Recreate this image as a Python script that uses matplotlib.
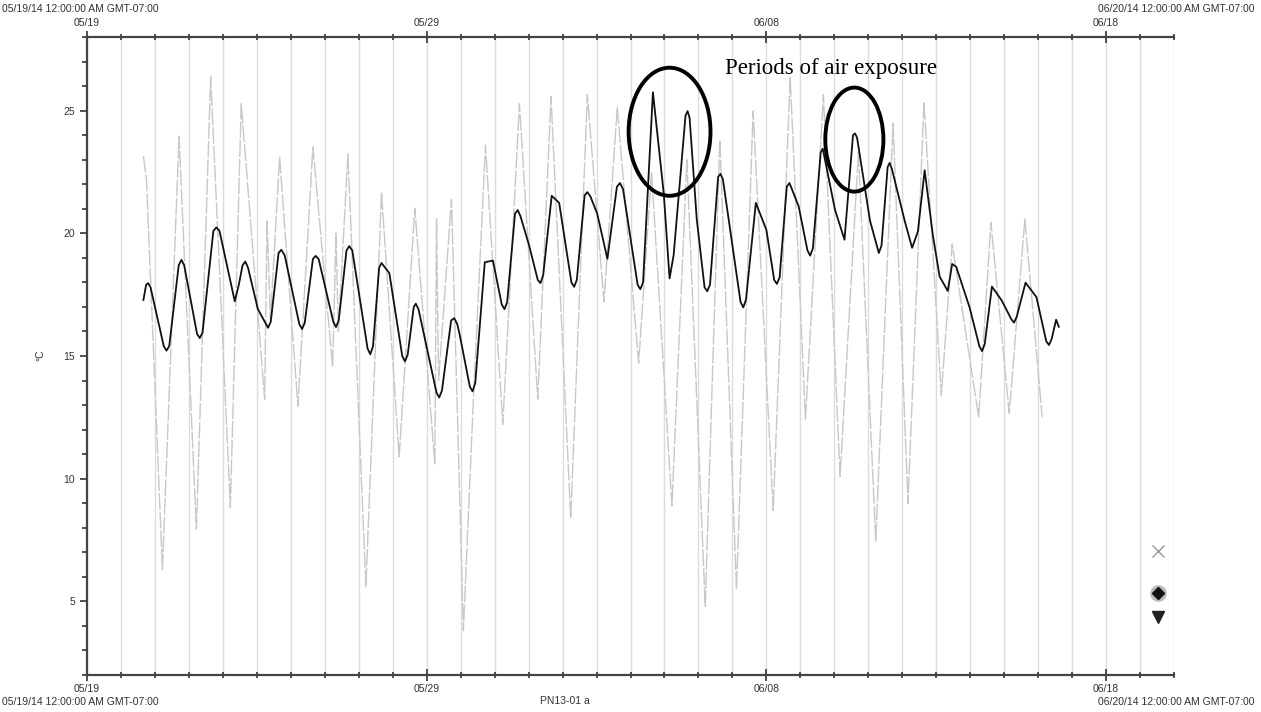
import matplotlib.pyplot as plt
from matplotlib.patches import Ellipse
from matplotlib.ticker import MultipleLocator

# days since 05/19/14 00:00 (GMT-07:00)
black_day = [1.66, 1.74, 1.80, 1.87, 2.26, 2.34, 2.42, 2.70, 2.78, 2.86, 3.24, 3.32, 3.40,
             3.72, 3.81, 3.90, 4.35, 4.47, 4.58, 4.66, 4.74, 5.03, 5.33, 5.41, 5.64, 5.72,
             5.82, 6.25, 6.33, 6.41, 6.65, 6.73, 6.82, 7.25, 7.33, 7.41, 7.64, 7.72, 7.81,
             8.26, 8.34, 8.42, 8.60, 8.67, 8.90, 9.28, 9.36, 9.44, 9.62, 9.68, 9.76,
             10.29, 10.37, 10.45, 10.72, 10.81, 10.90, 10.97, 11.27, 11.35, 11.43, 11.71,
             11.95, 12.21, 12.29, 12.37, 12.60, 12.68, 12.76, 13.02, 13.27, 13.35, 13.43,
             13.68, 13.90, 14.26, 14.34, 14.42, 14.65, 14.73, 14.82, 15.02, 15.32, 15.60,
             15.69, 15.78, 16.21, 16.29, 16.37, 16.66, 16.98, 17.15, 17.27, 17.62, 17.68,
             17.74, 17.95, 18.18, 18.26, 18.34, 18.58, 18.65, 18.72, 19.24, 19.32, 19.40,
             19.69, 20.00, 20.23, 20.31, 20.39, 20.60, 20.68, 20.95, 21.21, 21.29, 21.37,
             21.60, 21.66, 22.02, 22.30, 22.55, 22.61, 22.67, 23.05, 23.31, 23.39, 23.57,
             23.63, 23.70, 24.07, 24.29, 24.46, 24.66, 24.90, 25.10, 25.34, 25.47, 25.59,
             25.98, 26.27, 26.35, 26.43, 26.64, 26.93, 27.21, 27.29, 27.37, 27.63, 27.95,
             28.24, 28.32, 28.40, 28.53, 28.61]
black_temp = [17.28, 17.9, 17.97, 17.8, 15.4, 15.22, 15.4, 18.7, 18.92, 18.7, 15.9, 15.73, 15.95,
              20.1, 20.24, 20.1, 17.23, 17.91, 18.7, 18.85, 18.6, 16.91, 16.15, 16.4, 19.2, 19.33,
              19.1, 16.3, 16.10, 16.35, 18.95, 19.08, 18.95, 16.4, 16.18, 16.45, 19.3, 19.48, 19.3,
              15.3, 15.07, 15.4, 18.6, 18.79, 18.38, 15.0, 14.78, 15.05, 17.0, 17.13, 16.9,
              13.5, 13.31, 13.6, 16.45, 16.54, 16.3, 15.88, 13.75, 13.56, 13.9, 18.82,
              18.89, 17.1, 16.91, 17.2, 20.8, 20.95, 20.7, 19.48, 18.1, 17.97, 18.3,
              21.53, 21.24, 18.0, 17.82, 18.1, 21.55, 21.68, 21.5, 20.80, 18.96, 21.9,
              22.05, 21.8, 17.9, 17.72, 18.0, 25.75, 21.61, 18.16, 19.11, 24.8, 24.98,
              24.7, 20.58, 17.8, 17.64, 17.9, 22.3, 22.42, 22.2, 17.2, 16.98, 17.3,
              21.24, 20.14, 18.1, 17.94, 18.2, 21.9, 22.05, 21.10, 19.3, 19.09, 19.4,
              23.3, 23.45, 20.96, 19.74, 24.0, 24.07, 23.9, 20.52, 19.20, 19.5, 22.7,
              22.87, 22.6, 20.52, 19.41, 20.07, 22.57, 19.93, 18.24, 17.65, 18.75, 18.63,
              16.99, 15.4, 15.20, 15.5, 17.83, 17.26, 16.5, 16.36, 16.6, 17.99, 17.40,
              15.6, 15.45, 15.7, 16.48, 16.19]

gray_day = [1.66, 1.75, 2.22, 2.71, 3.22, 3.64, 4.22, 4.54, 5.23, 5.30, 5.40, 5.67, 6.21,
            6.65, 7.23, 7.33, 7.40, 7.68, 8.21, 8.67, 9.19, 9.65, 10.24, 10.29, 10.35,
            10.73, 11.08, 11.37, 11.73, 12.24, 12.73, 13.27, 13.66, 14.24, 14.73, 15.22,
            15.61, 16.24, 16.62, 17.22, 17.66, 18.20, 18.63, 19.12, 19.61, 20.20, 20.70,
            21.15, 21.68, 22.17, 22.71, 23.22, 23.73, 24.17, 24.64, 25.15, 25.47, 26.25,
            26.61, 27.15, 27.61, 28.12]
gray_temp = [23.15, 22.2, 6.3, 23.96, 7.95, 26.38, 8.83, 25.28, 13.24, 20.5, 16.5, 23.1, 12.95,
             23.52, 14.56, 20.0, 16.0, 23.22, 5.6, 21.68, 10.89, 21.02, 10.6, 20.6, 14.0,
             21.39, 3.8, 13.1, 23.59, 12.21, 25.28, 13.24, 25.57, 8.39, 25.65, 17.2,
             25.13, 14.71, 22.5, 8.9, 23.0, 4.8, 23.81, 5.5, 24.98, 8.7, 26.35,
             12.44, 25.66, 10.09, 23.3, 7.45, 24.48, 8.99, 25.36, 13.4, 19.56, 12.51,
             20.44, 12.66, 20.59, 12.5]

tick_days = [0, 10, 20, 30]
tick_labels = ['05/19', '05/29', '06/08', '06/18']
start_label = '05/19/14 12:00:00 AM GMT-07:00'
end_label = '06/20/14 12:00:00 AM GMT-07:00'

# ellipses marking air exposure: (center day, center temp, width days, height degC)
circles = [(17.15, 24.14, 2.41, 5.22), (22.59, 23.82, 1.71, 4.24)]

plt.rcParams['font.family'] = ['Liberation Sans', 'DejaVu Sans']

fig = plt.figure(figsize=(12.61, 7.12), dpi=100)
ax = fig.add_axes([0.069, 0.052, 0.862, 0.896])

for d in range(0, 33):
    ax.axvline(d, color='#dcdcdc', lw=1, zorder=0)

ax.plot(gray_day, gray_temp, color='#c8c8c8', lw=1, dashes=(12, 1.5), zorder=2)
ax.plot(black_day, black_temp, color='#111111', lw=1.3, zorder=3)

for cx, cy, w, h in circles:
    ax.add_patch(Ellipse((cx, cy), w, h, fill=False, ec='black', lw=2.8, zorder=4))
ax.text(0.587, 0.951, 'Periods of air exposure', transform=ax.transAxes,
        family='Liberation Serif', fontsize=16.5, va='center', ha='left')

ax.set_xlim(0, 32)
ax.set_ylim(2, 28)
ax.set_xticks(tick_days)
ax.set_xticklabels(tick_labels)
ax.xaxis.set_minor_locator(MultipleLocator(1))
ax.yaxis.set_major_locator(MultipleLocator(5))
ax.yaxis.set_minor_locator(MultipleLocator(1))
ax.tick_params(axis='x', which='both', top=True, labeltop=True, direction='inout',
               colors='#333333', labelsize=7.5, width=1.2, pad=2)
ax.tick_params(axis='x', which='major', length=9)
ax.tick_params(axis='x', which='minor', length=4)
ax.tick_params(axis='y', which='major', length=5, width=1.2, colors='#333333', labelsize=7.5)
ax.tick_params(axis='y', which='minor', length=3.5, width=1.2, colors='#333333')
for s in ['left', 'top', 'bottom']:
    ax.spines[s].set_color('#444444')
    ax.spines[s].set_linewidth(1.6)
ax.spines['right'].set_visible(False)

fig.text(40 / 1261, 1 - 355 / 712, '°C', rotation=90, ha='center', va='center',
         fontsize=7.5, color='#333333')

# legend symbols at right
ax.plot([0.985], [0.194], marker='x', ms=8, color='#999999', mew=1, transform=ax.transAxes)
ax.plot([0.985], [0.129], marker='o', ms=11, color='#bbbbbb', transform=ax.transAxes)
ax.plot([0.985], [0.129], marker='D', ms=6, color='#111111', transform=ax.transAxes)
ax.plot([0.985], [0.091], marker='v', ms=8, color='#222222', transform=ax.transAxes)

fig.text(2 / 1261, 1 - 9 / 712, start_label, fontsize=7.5, color='#333333', va='center')
fig.text(1255 / 1261, 1 - 9 / 712, end_label, fontsize=7.5, color='#333333', va='center', ha='right')
fig.text(2 / 1261, 1 - 702 / 712, start_label, fontsize=7.5, color='#333333', va='center')
fig.text(1255 / 1261, 1 - 702 / 712, end_label, fontsize=7.5, color='#333333', va='center', ha='right')
fig.text(565 / 1261, 1 - 701 / 712, 'PN13-01 a', fontsize=7.5, color='#333333', va='center', ha='center')

fig.savefig('out.png', dpi=100)
